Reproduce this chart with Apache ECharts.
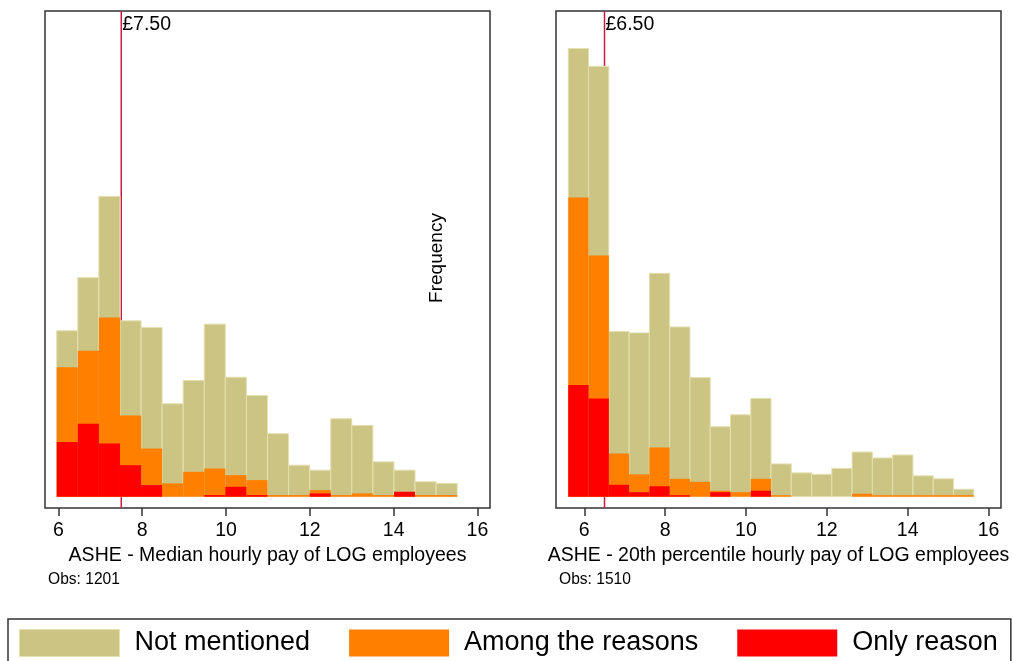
<!DOCTYPE html>
<html>
<head>
<meta charset="utf-8">
<script src="https://cdn.jsdelivr.net/npm/echarts@6/dist/echarts.min.js"></script>
<style>
  html, body { margin: 0; padding: 0; background: #fff; }
  #chart { width: 1013px; height: 661px; }
</style>
</head>
<body>
<div id="chart"></div>
<script>
// bins: start and width of each histogram bar (hourly pay, £)
var binStartL = 5.96, binWidthL = 0.503;
var binStartR = 5.604, binWidthR = 0.5016;

// frequencies - left: median pay
var notMentionedL = [100, 132, 181, 106, 102, 56, 70, 104, 72, 61, 38, 19, 16, 47, 43, 21, 16, 9, 8];
var amongL        = [78, 88, 108, 49, 29, 8, 15, 17, 13, 10, 1, 1, 4, 1, 2, 1, 1, 1, 1];
var onlyL         = [33, 44, 32, 19, 7, 0, 0, 1, 6, 1, 0, 0, 2, 0, 0, 0, 3, 0, 0];

// right: 20th percentile pay
var notMentionedR = [301, 289, 111, 110, 150, 114, 80, 47, 55, 66, 22, 16, 15, 19, 30, 26, 28, 14, 12, 5];
var amongR        = [201, 162, 29, 15, 33, 12, 10, 4, 3, 12, 1, 0, 0, 0, 2, 1, 1, 1, 1, 1];
var onlyR         = [75, 66, 8, 3, 7, 1, 0, 3, 0, 4, 0, 0, 0, 0, 0, 0, 0, 0, 0, 0];

var xTicks = [6, 8, 10, 12, 14, 16];
var cutL = 7.5, cutR = 6.5;
var cutLabelL = '£7.50', cutLabelR = '£6.50';
var xTitleL = 'ASHE - Median hourly pay of LOG employees';
var xTitleR = 'ASHE - 20th percentile hourly pay of LOG employees';
var obsL = 'Obs: 1201', obsR = 'Obs: 1510';
var names = ['Not mentioned', 'Among the reasons', 'Only reason'];

var FONT = '"Liberation Sans", Arial, sans-serif';
var TAN = '#cbc483', ORANGE = '#ff7f00', RED = '#ff0000', CUT = '#cc1a40';

var chart = echarts.init(document.getElementById('chart'));

function bins(start, width, vals) {
  var out = [];
  for (var i = 0; i < vals.length; i++) {
    out.push([start + i * width, start + (i + 1) * width, vals[i]]);
  }
  return out;
}

function renderItem(params, api) {
  var h = api.value(2);
  if (!h) return null;
  var p0 = api.coord([api.value(0), h]);
  var p1 = api.coord([api.value(1), 0]);
  return {
    type: 'rect',
    shape: { x: p0[0], y: p0[1], width: p1[0] - p0[0], height: p1[1] - p0[1] },
    style: api.style()
  };
}

function histSeries(name, idx, data, color, border, z) {
  return {
    name: name,
    type: 'custom',
    xAxisIndex: idx,
    yAxisIndex: idx,
    renderItem: renderItem,
    itemStyle: { color: color, borderColor: border || color, borderWidth: border ? 1 : 0 },
    data: data,
    z: z,
    silent: true
  };
}

function xAxis(idx, min, max, title) {
  return {
    type: 'value',
    gridIndex: idx,
    min: min,
    max: max,
    axisLine: { show: false, onZero: false },
    splitLine: { show: false },
    axisTick: { show: true, inside: false, length: 8, customValues: xTicks, lineStyle: { color: '#333', width: 1.5 } },
    axisLabel: { customValues: xTicks, fontSize: 19.5, color: '#000', margin: 13, fontFamily: FONT },
    name: title,
    nameLocation: 'middle',
    nameGap: 32,
    nameTextStyle: { fontSize: 19.5, color: '#000', fontFamily: FONT }
  };
}

function yAxis(idx, min, max) {
  return {
    type: 'value',
    gridIndex: idx,
    min: min,
    max: max,
    axisLine: { show: false },
    axisTick: { show: false },
    axisLabel: { show: false },
    splitLine: { show: false }
  };
}

function cutText(idx, x, y, text) {
  return {
    type: 'scatter', xAxisIndex: idx, yAxisIndex: idx, data: [[x, y]], symbolSize: 0, silent: true, z: 5,
    itemStyle: { opacity: 1 },
    label: { show: true, position: 'right', distance: 1, formatter: text, fontSize: 19.5, color: '#000', fontFamily: FONT }
  };
}

var option = {
  animation: false,
  backgroundColor: '#fff',
  textStyle: { fontFamily: FONT },
  grid: [
    { left: 45, top: 11, width: 445, height: 497, show: true, borderColor: '#333', borderWidth: 1.5 },
    { left: 556, top: 11, width: 445, height: 497, show: true, borderColor: '#333', borderWidth: 1.5 }
  ],
  xAxis: [
    xAxis(0, 5.68, 16.3, xTitleL),
    xAxis(1, 5.30, 16.31, xTitleR)
  ],
  yAxis: [
    yAxis(0, -6.8, 292.7),
    yAxis(1, -7.6, 326.2)
  ],
  legend: {
    left: 8,
    top: 619,
    padding: [10, 13, 10, 11],
    borderColor: '#333',
    borderWidth: 1.5,
    itemWidth: 100,
    itemHeight: 27,
    itemGap: 39,
    icon: 'rect',
    selectedMode: false,
    textStyle: { fontSize: 27, color: '#000', fontFamily: FONT, padding: [0, 0, 0, 10] },
    data: [
      { name: names[0], itemStyle: { color: TAN, borderColor: '#e4e0b2', borderWidth: 1 } },
      { name: names[1], itemStyle: { color: ORANGE, borderWidth: 0 } },
      { name: names[2], itemStyle: { color: RED, borderWidth: 0 } }
    ]
  },
  graphic: [
    { type: 'text', left: 48, top: 572, style: { text: obsL, fontSize: 15.6, fill: '#000', fontFamily: FONT } },
    { type: 'text', left: 559, top: 572, style: { text: obsR, fontSize: 15.6, fill: '#000', fontFamily: FONT } },
    { type: 'text', x: 437, y: 258, rotation: Math.PI / 2,
      style: { text: 'Frequency', fontSize: 19, fill: '#000', fontFamily: FONT, align: 'center', verticalAlign: 'middle' } }
  ],
  series: [
    { type: 'line', xAxisIndex: 0, yAxisIndex: 0, data: [[cutL, -6.8], [cutL, 292.7]], symbol: 'none',
      lineStyle: { color: CUT, width: 1.5 }, z: 1, silent: true },
    { type: 'line', xAxisIndex: 1, yAxisIndex: 1, data: [[cutR, -7.6], [cutR, 326.2]], symbol: 'none',
      lineStyle: { color: CUT, width: 1.5 }, z: 1, silent: true },
    histSeries(names[0], 0, bins(binStartL, binWidthL, notMentionedL), TAN, '#e4e0b2', 2),
    histSeries(names[1], 0, bins(binStartL, binWidthL, amongL), ORANGE, null, 3),
    histSeries(names[2], 0, bins(binStartL, binWidthL, onlyL), RED, null, 4),
    histSeries(names[0], 1, bins(binStartR, binWidthR, notMentionedR), TAN, '#e4e0b2', 2),
    histSeries(names[1], 1, bins(binStartR, binWidthR, amongR), ORANGE, null, 3),
    histSeries(names[2], 1, bins(binStartR, binWidthR, onlyR), RED, null, 4),
    cutText(0, cutL, 284.3, cutLabelL),
    cutText(1, cutR, 316.8, cutLabelR)
  ]
};

chart.setOption(option);
</script>
</body>
</html>
